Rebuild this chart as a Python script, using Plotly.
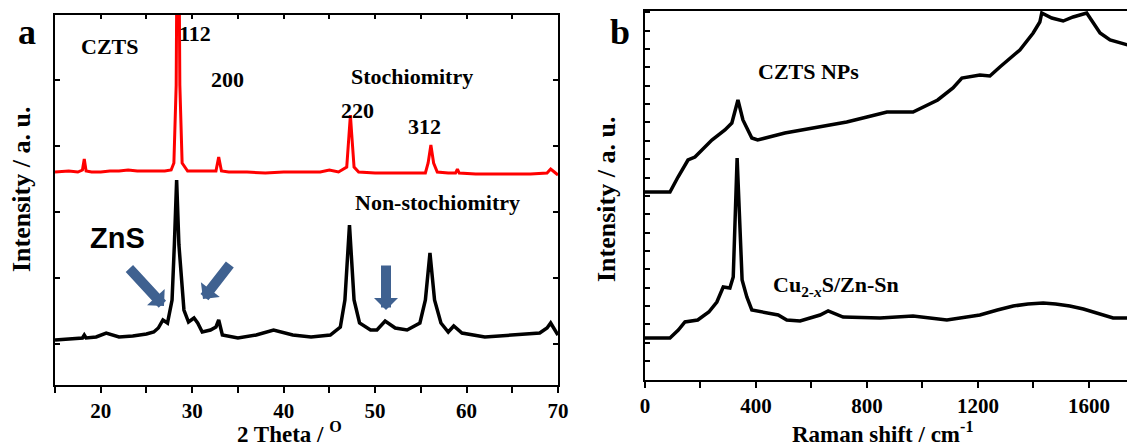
import plotly.graph_objects as go

# ---------------- Panel a: XRD ----------------
xrd_stoich_2theta = [15, 16.5, 17.5, 18.0, 18.2, 18.4, 19, 20, 21, 22, 23, 24, 25, 26, 27.0, 27.7, 28.0, 28.25,
                     28.45, 28.65, 28.9, 29.5, 31, 32.6, 32.9, 33.2, 34, 36, 38, 40, 42, 44, 45, 46, 46.9,
                     47.15, 47.3, 47.45, 47.7, 48.2, 50, 52, 54, 55.5, 55.8, 56.1, 56.4, 56.8, 58, 58.8,
                     59.0, 59.2, 61, 63, 65, 67, 68.8, 69.2, 69.6, 70]
xrd_stoich_int = [213, 214, 213, 215, 226, 214, 213, 213, 214, 214, 215, 214, 214, 214, 214, 215, 222, 300,
                  600, 300, 222, 214, 214, 214, 228, 214, 213, 213, 212, 213, 213, 213, 215, 213, 218,
                  250, 270, 250, 218, 213, 212, 212, 212, 212, 222, 240, 222, 213, 212, 212,
                  216, 212, 211, 211, 211, 211, 212, 216, 213, 210]

xrd_nonstoich_2theta = [15, 16.5, 18.0, 18.2, 18.4, 19.5, 20.6, 22, 23.5, 25.0, 25.8, 26.3, 26.8, 27.3, 27.8,
                        28.05, 28.3, 28.55, 28.8, 29.1, 29.6, 30.2, 30.6, 31.1, 32.0, 32.6, 32.9, 33.3,
                        35, 37, 38.9, 41, 43, 45.1, 46.2, 46.7, 47.2, 47.7, 48.3, 49.5, 50.2, 51.1,
                        52.2, 53.5, 54.9, 55.5, 56.0, 56.5, 57.2, 58.0, 58.6, 59.5, 62, 65, 68, 68.8,
                        69.2, 70]
xrd_nonstoich_int = [45, 46, 47, 50, 47, 48, 52, 48, 49, 51, 53, 57, 65, 62, 85,
                     140, 205, 140, 105, 75, 63, 67, 62, 53, 55, 58, 65, 50,
                     47, 50, 55, 50, 48, 50, 58, 85, 160, 85, 62, 55, 55, 64,
                     57, 55, 62, 85, 132, 85, 62, 53, 59, 52, 48, 50, 52, 57,
                     62, 50]

# ---------------- Panel b: Raman ----------------
raman_czts_shift = [0, 90, 119, 155, 180, 241, 288, 313, 335, 353, 385, 406, 504, 606, 727, 800, 872,
                    966, 1015, 1055, 1110, 1142, 1207, 1243, 1279, 1351, 1399, 1423, 1430, 1466, 1507,
                    1543, 1592, 1615, 1640, 1676, 1712, 1766]
raman_czts_int = [188, 188, 203, 220, 223, 240, 250, 257, 280, 260, 242, 240, 247, 252, 258, 263, 268,
                  268, 275, 280, 292, 302, 305, 304, 313, 330, 347, 358, 367, 362, 359,
                  363, 367, 358, 347, 340, 337, 333]

raman_cus_shift = [0, 90, 120, 144, 190, 230, 259, 282, 306, 318, 332, 350, 367, 385, 480, 511, 559, 631,
                   660, 714, 847, 966, 1088, 1207, 1270, 1327, 1380, 1435, 1480, 1531, 1580, 1628,
                   1687, 1766]
raman_cus_int = [42, 42, 50, 58, 60, 68, 78, 93, 92, 103, 222, 100, 83, 70, 65, 60, 59, 65,
                 69, 63, 62, 64, 60, 65, 70, 74, 76, 77, 76, 74, 71, 67,
                 62, 62]

# The page has an 8 px body margin, so the figure is drawn 8 px smaller and shifted.
OFF = 8
FW, FH = 1135 - OFF, 448 - OFF
SERIF = "Liberation Serif"
ARROW = "#3F6190"


def PX(px):
    return (px - OFF) / FW


def PY(py):
    return 1 - (py - OFF) / FH


fig = go.Figure()
fig.add_trace(go.Scatter(x=xrd_stoich_2theta, y=xrd_stoich_int, mode="lines",
                         line=dict(color="#FF0000", width=3), xaxis="x", yaxis="y",
                         showlegend=False, name="Stochiomitry"))
fig.add_trace(go.Scatter(x=xrd_nonstoich_2theta, y=xrd_nonstoich_int, mode="lines",
                         line=dict(color="black", width=3.5), xaxis="x", yaxis="y",
                         showlegend=False, name="Non-stochiomitry"))
# invisible trace that hosts the top tick axis of panel a
fig.add_trace(go.Scatter(x=[15], y=[0], mode="markers", marker=dict(opacity=0),
                         xaxis="x3", yaxis="y", showlegend=False, hoverinfo="skip"))
fig.add_trace(go.Scatter(x=raman_czts_shift, y=raman_czts_int, mode="lines",
                         line=dict(color="black", width=3.5), xaxis="x2", yaxis="y2",
                         showlegend=False, name="CZTS NPs"))
fig.add_trace(go.Scatter(x=raman_cus_shift, y=raman_cus_int, mode="lines",
                         line=dict(color="black", width=3.5), xaxis="x2", yaxis="y2",
                         showlegend=False, name="Cu2-xS/Zn-Sn"))

tickfont = dict(family=SERIF, size=21, color="black", weight="bold")

ax_common = dict(showgrid=False, zeroline=False, showline=True, linecolor="black", linewidth=2,
                 tickcolor="black", tickwidth=1.5, automargin=False)

xa = dict(domain=[PX(55), PX(558)], range=[15, 70], anchor="y",
          tickvals=[20, 30, 40, 50, 60, 70], ticks="outside", ticklen=6,
          minor=dict(dtick=5, tick0=15, ticks="outside", ticklen=6, tickcolor="black", tickwidth=1.5),
          mirror=True, tickfont=tickfont, **ax_common)
ya = dict(domain=[PY(385), PY(15)], range=[0, 370], anchor="x",
          tick0=41, dtick=66, ticks="inside", ticklen=5, showticklabels=False, mirror="ticks",
          **ax_common)
xa3 = dict(overlaying="x", side="top", anchor="y", range=[15, 70], tick0=15, dtick=5,
           ticks="inside", ticklen=4, tickcolor="black", tickwidth=1.5, showticklabels=False,
           showgrid=False, zeroline=False, showline=False)
xb = dict(domain=[PX(645), 1.0], range=[0, 1766], anchor="y2",
          tickvals=[0, 400, 800, 1200, 1600], ticks="outside", ticklen=6,
          minor=dict(dtick=200, tick0=0, ticks="outside", ticklen=6, tickcolor="black", tickwidth=1.5),
          mirror=True, tickfont=tickfont, **ax_common)
yb = dict(domain=[PY(380), PY(11)], range=[0, 369], anchor="x2",
          tick0=19, dtick=18.35, ticks="inside", ticklen=5, showticklabels=False, **ax_common)


def lab(text, x, y, size=22, family=SERIF, angle=0):
    return dict(text="<b>%s</b>" % text, x=PX(x), y=PY(y), xref="paper", yref="paper",
                showarrow=False, xanchor="center", yanchor="middle", textangle=angle,
                font=dict(family=family, size=size, color="black"))


annotations = [
    lab("a", 27, 32, size=36),
    lab("b", 620, 32, size=36),
    lab("CZTS", 109, 46),
    lab("112", 195, 34),
    lab("200", 227, 80),
    lab("Stochiomitry", 412, 76),
    lab("220", 357, 110),
    lab("312", 424, 126),
    lab("Non-stochiomitry", 437, 203),
    lab("ZnS", 117, 238, size=29, family="Liberation Sans"),
    lab("CZTS NPs", 808, 71),
    lab("Cu<sub>2-<i>x</i></sub>S/Zn-Sn", 836, 286),
    # axis titles
    lab("2 Theta / <sup>O</sup>", 289, 432.5, size=23),
    lab("Raman shift / cm<sup>-1</sup>", 882, 432.5, size=23),
    lab("Intensity / a. u.", 22, 190, size=26, angle=-90),
    lab("Intensity / a. u.", 607, 200, size=26, angle=-90),
]


def arrow(x0, y0, x1, y1):
    return dict(x=PX(x1), y=PY(y1), ax=x0 - x1, ay=y0 - y1, xref="paper", yref="paper",
                axref="pixel", ayref="pixel", showarrow=True, text="", arrowhead=1,
                arrowsize=0.4, arrowwidth=10, arrowcolor=ARROW, standoff=0)


annotations += [arrow(128, 267, 164, 306), arrow(231, 263, 203, 299), arrow(386, 264, 386, 310)]

fig.update_layout(width=FW, height=FH, autosize=False, margin=dict(l=0, r=0, t=0, b=0),
                  paper_bgcolor="white", plot_bgcolor="white",
                  xaxis=xa, yaxis=ya, xaxis3=xa3, xaxis2=xb, yaxis2=yb,
                  annotations=annotations, showlegend=False)

fig.write_html("out.html")
